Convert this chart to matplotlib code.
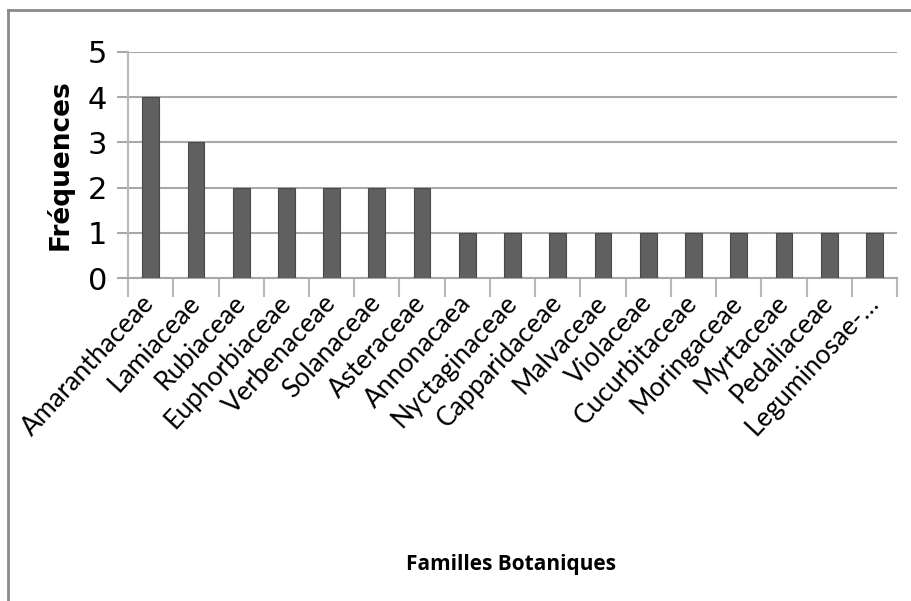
import matplotlib.pyplot as plt
from matplotlib.lines import Line2D

familles = ["Amaranthaceae", "Lamiaceae", "Rubiaceae", "Euphorbiaceae",
            "Verbenaceae", "Solanaceae", "Asteraceae", "Annonacaea",
            "Nyctaginaceae", "Capparidaceae", "Malvaceae", "Violaceae",
            "Cucurbitaceae", "Moringaceae", "Myrtaceae", "Pedaliaceae",
            "Leguminosae-…"]
frequences = [4, 3, 2, 2, 2, 2, 2, 1, 1, 1, 1, 1, 1, 1, 1, 1, 1]
yticks = [0, 1, 2, 3, 4, 5]

plt.rcParams['font.family'] = ['Lato', 'DejaVu Sans']

fig = plt.figure(figsize=(9.12, 6.01), dpi=100)
ax = fig.add_axes([0.1404, 0.5374, 0.8432, 0.3761])

x = list(range(len(familles)))
ax.bar(x, frequences, width=0.37, color='#606060', edgecolor='#4a4a4a',
       linewidth=0.8, zorder=3)

ax.set_xlim(-0.5, len(familles) - 0.5)
ax.set_ylim(0, 5)
ax.set_yticks(yticks)
ax.set_yticklabels([str(v) for v in yticks], fontsize=22,
                   family=['Liberation Sans Narrow', 'DejaVu Sans'])
ax.yaxis.grid(True, color='#a8a8a8', linewidth=1.5, zorder=0)
ax.set_axisbelow(True)

for s in ['top', 'right']:
    ax.spines[s].set_visible(False)
ax.spines['left'].set_color('#b8b8b8')
ax.spines['left'].set_linewidth(1.5)
ax.spines['bottom'].set_color('#a8a8a8')
ax.spines['bottom'].set_linewidth(1.5)
ax.tick_params(axis='y', length=8, width=1.5, color='#a8a8a8', pad=7)

# ticks between categories
ax.set_xticks([i - 0.5 for i in range(len(familles) + 1)], minor=False)
ax.set_xticklabels([])
ax.tick_params(axis='x', which='major', length=14, width=1.5, color='#b8b8b8')
ax.set_xticks(x, minor=True)
ax.set_xticklabels(familles, minor=True, rotation=47, ha='right',
                   va='center', rotation_mode='anchor', fontsize=19)
ax.tick_params(axis='x', which='minor', length=0, pad=15)

ax.set_ylabel("Fréquences", fontsize=19, fontweight='bold', labelpad=10,
              family=['DejaVu Sans'])
fig.text(0.56, 0.06, "Familles Botaniques", ha='center', va='center',
         fontsize=15, fontweight='bold', family=['Open Sans', 'DejaVu Sans'])

# outer chart frame
fig.add_artist(Line2D([8 / 912, 1.0], [1 - 10 / 601, 1 - 10 / 601],
                      color='#8a8a8a', linewidth=2, transform=fig.transFigure))
fig.add_artist(Line2D([8 / 912, 8 / 912], [0, 1 - 10 / 601],
                      color='#8a8a8a', linewidth=2, transform=fig.transFigure))

fig.savefig("out.png", dpi=100)
